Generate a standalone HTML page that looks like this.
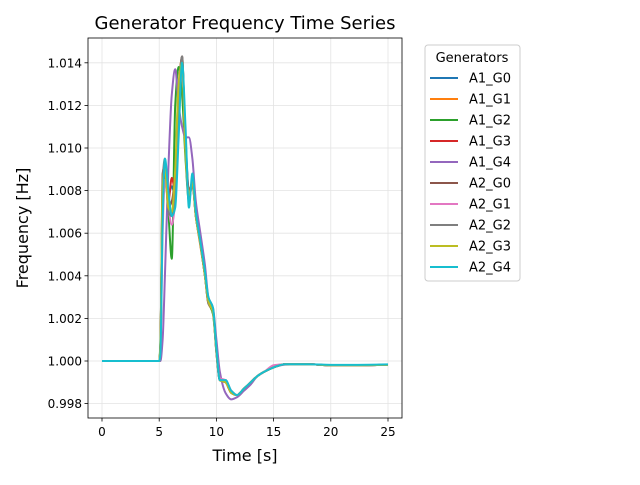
<!DOCTYPE html>
<html><head><meta charset="utf-8"><style>
body{margin:0;background:#fff;font-family:"Liberation Sans","DejaVu Sans",sans-serif}
svg text{font-family:"DejaVu Sans","Liberation Sans",sans-serif}
</style></head><body>
<svg id="chart" width="640" height="480" viewBox="0 0 640 480" xmlns="http://www.w3.org/2000/svg">
<rect width="640" height="480" fill="#fff"/>
<text x="245" y="29" font-size="18" text-anchor="middle">Generator Frequency Time Series</text>
<g id="grid"></g>
<g id="series"></g>
<rect x="88" y="38" width="314" height="380" fill="none" stroke="#000" stroke-width="0.8"/>
<g id="ticks"></g>
<text x="245" y="461" font-size="16" text-anchor="middle">Time [s]</text>
<text x="28" y="228" font-size="16" text-anchor="middle" transform="rotate(-90 28 228)">Frequency [Hz]</text>
<g id="legend">
<rect x="425" y="45" width="95" height="236" rx="3" fill="#fff" stroke="#ccc" stroke-width="1"/>
<text x="472" y="62" font-size="13" text-anchor="middle">Generators</text>
</g>
</svg>
<script>
const times=[0,5,5.1,5.3,5.5,5.8,6.1,6.4,6.7,7.0,7.3,7.6,7.9,8.2,8.6,9.0,9.3,9.7,10.0,10.3,10.8,11.3,11.8,12.4,13.0,13.6,14.2,15.0,16.0,18.0,20.0,22.0,25.0];
const seriesNames=["A1_G0","A1_G1","A1_G2","A1_G3","A1_G4","A2_G0","A2_G1","A2_G2","A2_G3","A2_G4"];
const colors=["#1f77b4","#ff7f0e","#2ca02c","#d62728","#9467bd","#8c564b","#e377c2","#7f7f7f","#bcbd22","#17becf"];
const sA1G0=[1.0,1.0,1.0005,1.0070,1.0092,1.0078,1.0082,1.0078,1.0110,1.0140,1.0105,1.0080,1.0082,1.0070,1.0055,1.0040,1.0028,1.0024,1.0005,0.9991,0.9991,0.9986,0.9984,0.9987,0.9990,0.9993,0.9995,0.9997,0.99985,0.99985,0.9998,0.9998,0.99982];
const sA1G1=[1.0,1.0,1.0006,1.0080,1.0090,1.0072,1.0070,1.0085,1.0130,1.0142,1.0100,1.0078,1.0084,1.0068,1.0054,1.0040,1.0027,1.0023,1.0004,0.9991,0.9990,0.9985,0.9984,0.9987,0.9990,0.9993,0.9995,0.9997,0.99985,0.99985,0.9998,0.9998,0.99982];
const sA1G2=[1.0,1.0,1.0008,1.0075,1.0090,1.0070,1.0048,1.0120,1.0138,1.0125,1.0095,1.0075,1.0085,1.0068,1.0055,1.0040,1.0028,1.0022,1.0005,0.9991,0.9990,0.9986,0.9984,0.9987,0.9990,0.9993,0.9995,0.9997,0.99985,0.99985,0.9998,0.9998,0.99982];
const sA1G3=[1.0,1.0,1.0005,1.0072,1.0088,1.0075,1.0086,1.0080,1.0115,1.0140,1.0102,1.0080,1.0083,1.0070,1.0056,1.0041,1.0029,1.0024,1.0006,0.9991,0.9990,0.9985,0.9984,0.9987,0.9990,0.9993,0.9995,0.9997,0.99985,0.99985,0.9998,0.9998,0.99982];
const sA1G4=[1.0,1.0,1.0,1.0010,1.0040,1.0090,1.0125,1.0137,1.0120,1.0110,1.0105,1.0105,1.0095,1.0075,1.0060,1.0045,1.0030,1.0025,1.0010,0.9995,0.9985,0.9982,0.9983,0.9986,0.9989,0.9993,0.9995,0.9997,0.99983,0.99985,0.9998,0.9998,0.99982];
const sA2G0=[1.0,1.0,1.0006,1.0088,1.0092,1.0072,1.0075,1.0088,1.0125,1.0143,1.0100,1.0078,1.0084,1.0068,1.0055,1.0040,1.0027,1.0024,1.0004,0.9991,0.9991,0.9985,0.9984,0.9987,0.9990,0.9993,0.9995,0.9997,0.99985,0.99985,0.9998,0.9998,0.99982];
const sA2G1=[1.0,1.0,1.0004,1.0060,1.0085,1.0072,1.0064,1.0075,1.0110,1.0138,1.0100,1.0076,1.0084,1.0068,1.0055,1.0040,1.0028,1.0023,1.0005,0.9992,0.9991,0.9986,0.9984,0.9987,0.9990,0.9993,0.9995,0.9998,0.99985,0.99985,0.9998,0.9998,0.99982];
const sA2G2=[1.0,1.0,1.0006,1.0085,1.0095,1.0070,1.0068,1.0080,1.0122,1.0143,1.0098,1.0077,1.0083,1.0068,1.0055,1.0040,1.0027,1.0024,1.0004,0.9991,0.9990,0.9985,0.9984,0.9987,0.9990,0.9993,0.9995,0.9997,0.99985,0.99985,0.9998,0.9998,0.99982];
const sA2G3=[1.0,1.0,1.0007,1.0082,1.0090,1.0072,1.0070,1.0090,1.0130,1.0140,1.0098,1.0078,1.0084,1.0068,1.0055,1.0040,1.0028,1.0023,1.0005,0.9991,0.9990,0.9985,0.9984,0.9987,0.9990,0.9993,0.9995,0.9997,0.99985,0.99985,0.9998,0.9998,0.99982];
const sA2G4=[1.0,1.0,1.0003,1.0065,1.0095,1.0080,1.0068,1.0072,1.0105,1.0140,1.0110,1.0072,1.0088,1.0070,1.0056,1.0042,1.0030,1.0025,1.0006,0.9991,0.9991,0.9986,0.9984,0.9987,0.9990,0.9993,0.9995,0.9997,0.99985,0.99985,0.99982,0.99982,0.99984];
const seriesValues=[sA1G0,sA1G1,sA1G2,sA1G3,sA1G4,sA2G0,sA2G1,sA2G2,sA2G3,sA2G4];
const xTicks=[0,5,10,15,20,25];
const yTicks=[0.998,1.000,1.002,1.004,1.006,1.008,1.010,1.012,1.014];
const yTickLabels=["0.998","1.000","1.002","1.004","1.006","1.008","1.010","1.012","1.014"];

const NS="http://www.w3.org/2000/svg";
function xs(t){return 102+t*11.44;}
function ys(f){return 361-(f-1)*21300;}
function mk(tag,attrs,parent){const e=document.createElementNS(NS,tag);for(const k in attrs)e.setAttribute(k,attrs[k]);parent.appendChild(e);return e;}
const grid=document.getElementById('grid'),ticks=document.getElementById('ticks'),ser=document.getElementById('series'),leg=document.getElementById('legend');
xTicks.forEach(t=>{
  const g=mk('line',{x1:xs(t),x2:xs(t),y1:38,y2:418,stroke:'#e3e3e3','stroke-width':0.8},grid);
  
  
  mk('line',{x1:xs(t),x2:xs(t),y1:418,y2:421.5,stroke:'#000','stroke-width':0.8},ticks);
  const tx=mk('text',{x:xs(t),y:436,'font-size':12,'text-anchor':'middle'},ticks);
  tx.textContent=String(t);
  
  
});
yTicks.forEach((v,i)=>{
  const g=mk('line',{x1:88,x2:402,y1:ys(v),y2:ys(v),stroke:'#e3e3e3','stroke-width':0.8},grid);
  
  
  mk('line',{x1:84.5,x2:88,y1:ys(v),y2:ys(v),stroke:'#000','stroke-width':0.8},ticks);
  const tx=mk('text',{x:82,y:ys(v)+4.5,'font-size':12,'text-anchor':'end'},ticks);
  tx.textContent=yTickLabels[i];
  
  
});
// monotone cubic (Fritsch-Carlson) to avoid overshoot
function smooth(pts){
  const n=pts.length,d=[],m=[];
  for(let i=0;i<n-1;i++)d.push((pts[i+1][1]-pts[i][1])/(pts[i+1][0]-pts[i][0]));
  m[0]=d[0];m[n-1]=d[n-2];
  for(let i=1;i<n-1;i++){
    if(d[i-1]*d[i]<=0)m[i]=0;
    else{const h0=pts[i][0]-pts[i-1][0],h1=pts[i+1][0]-pts[i][0];const w1=2*h1+h0,w2=h1+2*h0;m[i]=(w1+w2)/(w1/d[i-1]+w2/d[i]);}
  }
  let s='M'+pts[0][0].toFixed(2)+','+pts[0][1].toFixed(2);
  for(let i=0;i<n-1;i++){
    const h=(pts[i+1][0]-pts[i][0])/3;
    s+=' C'+(pts[i][0]+h).toFixed(2)+','+(pts[i][1]+m[i]*h).toFixed(2)+' '+(pts[i+1][0]-h).toFixed(2)+','+(pts[i+1][1]-m[i+1]*h).toFixed(2)+' '+pts[i+1][0].toFixed(2)+','+pts[i+1][1].toFixed(2);
  }
  return s;
}
seriesValues.forEach((vals,si)=>{
  const pts=times.map((t,i)=>[xs(t),ys(vals[i])]);
  const p=mk('path',{d:smooth(pts),fill:'none',stroke:colors[si],'stroke-width':2,'stroke-linejoin':'round'},ser);
  
  
  const y=78+si*21;
  const ll=mk('line',{x1:430,x2:458,y1:y,y2:y,stroke:colors[si],'stroke-width':2},leg);
  
  
  const lt=mk('text',{x:469,y:y+4.5,'font-size':13},leg);
  lt.textContent=seriesNames[si];
  
  
});
</script>
</body></html>
